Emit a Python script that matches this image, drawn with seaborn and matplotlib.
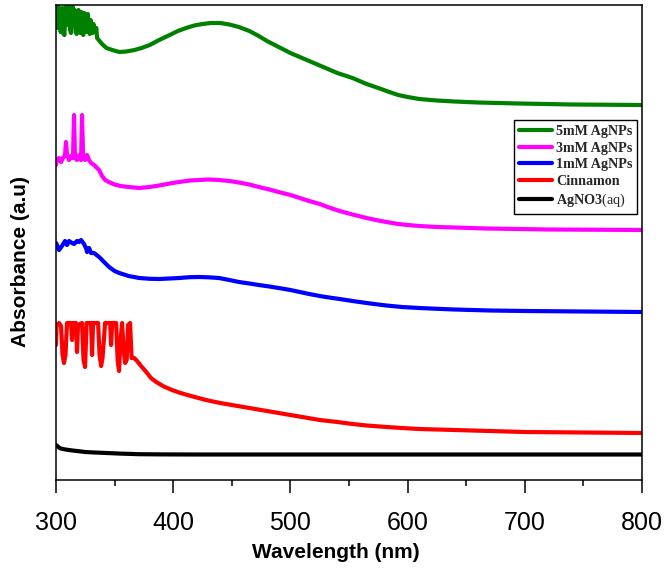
import matplotlib
matplotlib.use("Agg")
import matplotlib.pyplot as plt
import numpy as np
import pandas as pd
import seaborn as sns
from matplotlib.ticker import MultipleLocator

# UV-Vis spectra: wavelength (nm) and stacked absorbance (a.u.)
wl_5mM = [300.0, 300.8, 301.6, 302.4, 303.2, 304.0, 304.8, 305.6, 306.4, 307.2, 308.0, 308.8,
          309.6, 310.4, 311.2, 312.0, 312.8, 313.6, 314.4, 315.2, 316.0, 316.8, 317.6, 318.4,
          319.2, 320.0, 320.8, 321.6, 322.4, 323.2, 324.0, 324.8, 325.6, 326.4, 327.2, 328.0,
          328.8, 329.6, 330.4, 331.2, 332.0, 332.8, 333.6, 334.4, 335.0,
          339.3, 343.0, 348.0, 354.0, 360.0, 367.0, 373.0, 380.0, 388.0, 397.0, 404.0, 411.0,
          418.0, 425.0, 432.0, 440.0, 448.0, 456.0, 465.0, 473.0, 480.0, 490.0, 500.0, 510.0,
          520.0, 530.0, 540.0, 553.0, 565.0, 575.0, 582.0, 592.0, 600.0, 610.0, 625.0, 640.0,
          660.0, 695.0, 740.0, 800.0]
abs_5mM = [4.65, 4.74, 4.52, 4.73, 4.70, 4.48, 4.60, 4.72, 4.46, 4.45, 4.70, 4.74,
           4.55, 4.72, 4.74, 4.50, 4.47, 4.72, 4.73, 4.55, 4.70, 4.48, 4.46, 4.66,
           4.70, 4.50, 4.47, 4.68, 4.55, 4.45, 4.67, 4.66, 4.48, 4.50, 4.66, 4.52,
           4.46, 4.60, 4.55, 4.47, 4.56, 4.50, 4.48, 4.52, 4.42,
           4.36, 4.32, 4.30, 4.28, 4.285, 4.30, 4.32, 4.35, 4.40, 4.45, 4.49, 4.52,
           4.545, 4.56, 4.57, 4.57, 4.555, 4.53, 4.49, 4.44, 4.39, 4.33, 4.27, 4.22,
           4.17, 4.12, 4.07, 4.02, 3.96, 3.92, 3.89, 3.85, 3.83, 3.81, 3.795, 3.785,
           3.775, 3.765, 3.755, 3.75]

wl_3mM = [300.0, 300.9, 302.6, 304.3, 306.0, 307.7, 308.5, 309.4, 311.1, 312.8, 314.5, 315.4,
          316.2, 317.9, 319.7, 321.4, 322.2, 323.1, 324.8, 326.5, 328.2, 329.9, 332.5, 336.8,
          339.3, 342.0, 345.0, 350.0, 355.0, 362.0, 371.0, 380.0, 388.0, 397.0, 405.0, 414.0,
          422.0, 430.0, 439.0, 448.0, 456.0, 465.0, 473.0, 482.0, 490.0, 500.0, 508.0, 516.0,
          525.0, 533.0, 542.0, 553.0, 565.0, 575.0, 582.0, 592.0, 600.0, 610.0, 625.0, 640.0,
          667.0, 720.0, 800.0]
abs_3mM = [3.15, 3.20, 3.22, 3.18, 3.22, 3.25, 3.38, 3.25, 3.20, 3.24, 3.22, 3.65,
           3.22, 3.20, 3.25, 3.20, 3.65, 3.25, 3.20, 3.25, 3.20, 3.17, 3.15, 3.10,
           3.04, 3.00, 2.98, 2.955, 2.94, 2.93, 2.92, 2.93, 2.945, 2.965, 2.98, 2.995,
           3.00, 3.005, 3.00, 2.99, 2.975, 2.955, 2.93, 2.905, 2.88, 2.85, 2.82, 2.79,
           2.76, 2.725, 2.69, 2.655, 2.62, 2.595, 2.58, 2.56, 2.55, 2.54, 2.53, 2.525,
           2.515, 2.505, 2.50]

wl_1mM = [300.0, 300.9, 302.6, 305.1, 307.7, 309.4, 311.1, 313.7, 315.4, 317.9, 319.7, 321.4,
          323.9, 325.6, 326.5, 328.2, 329.9, 332.5, 336.8, 341.0, 345.3, 350.0, 354.0, 362.0,
          371.0, 380.0, 388.0, 397.0, 405.0, 414.0, 422.0, 430.0, 439.0, 448.0, 456.0, 465.0,
          473.0, 482.0, 490.0, 500.0, 508.0, 516.0, 525.0, 533.0, 542.0, 553.0, 565.0, 575.0,
          582.0, 595.0, 610.0, 625.0, 640.0, 670.0, 700.0, 750.0, 800.0]
abs_1mM = [2.37, 2.35, 2.30, 2.34, 2.39, 2.35, 2.39, 2.37, 2.36, 2.39, 2.38, 2.40,
           2.36, 2.32, 2.28, 2.32, 2.27, 2.27, 2.23, 2.18, 2.13, 2.09, 2.07, 2.04,
           2.02, 2.012, 2.01, 2.015, 2.02, 2.028, 2.03, 2.027, 2.02, 2.00, 1.98, 1.965,
           1.95, 1.935, 1.92, 1.90, 1.88, 1.86, 1.84, 1.825, 1.81, 1.79, 1.77, 1.755,
           1.745, 1.73, 1.72, 1.712, 1.705, 1.695, 1.69, 1.685, 1.68]

wl_cin = [300.0, 300.4, 302.6, 304.3, 305.6, 306.8, 308.1, 309.4, 312.8, 313.7, 314.5, 317.1,
          317.9, 318.8, 322.2, 323.5, 324.8, 326.1, 329.9, 330.8, 331.6, 335.9, 337.2, 338.5,
          339.7, 341.9, 346.2, 347.0, 347.9, 351.3, 352.6, 353.8, 355.1, 356.4, 357.7, 359.0,
          360.3, 361.5, 363.2, 364.5, 366.7, 369.2, 372.6, 377.0, 381.0, 385.5, 392.0, 399.0,
          405.0, 412.0, 420.0, 428.0, 440.0, 450.0, 460.0, 475.0, 490.0, 505.0, 525.0, 540.0,
          553.0, 565.0, 582.0, 595.0, 610.0, 625.0, 640.0, 670.0, 700.0, 750.0, 800.0]
abs_cin = [1.35, 1.54, 1.57, 1.54, 1.25, 1.17, 1.25, 1.57, 1.57, 1.40, 1.57, 1.57,
           1.28, 1.55, 1.57, 1.20, 1.13, 1.57, 1.57, 1.25, 1.57, 1.57, 1.25, 1.14,
           1.22, 1.57, 1.57, 1.35, 1.57, 1.57, 1.20, 1.09, 1.40, 1.57, 1.30, 1.17,
           1.20, 1.55, 1.57, 1.22, 1.22, 1.19, 1.14, 1.08, 1.02, 0.98, 0.935, 0.90,
           0.875, 0.85, 0.825, 0.80, 0.77, 0.75, 0.73, 0.70, 0.67, 0.64, 0.60, 0.58,
           0.56, 0.545, 0.53, 0.52, 0.51, 0.505, 0.50, 0.49, 0.48, 0.475, 0.47]

wl_agno3 = [300.0, 301.5, 303.0, 305.0, 308.0, 314.0, 320.0, 325.0, 333.0, 343.0, 355.0, 371.0,
            390.0, 420.0, 500.0, 650.0, 800.0]
abs_agno3 = [0.35, 0.335, 0.32, 0.312, 0.305, 0.295, 0.287, 0.28, 0.275, 0.27, 0.264, 0.258,
             0.256, 0.255, 0.255, 0.255, 0.255]

series_names = ["5mM AgNPs", "3mM AgNPs", "1mM AgNPs", "Cinnamon", "AgNO3(aq)"]
series_colors = ["#008000", "#FF00FF", "#0000FF", "#FF0000", "#000000"]

frames = []
for name, wl, ab in zip(series_names,
                        [wl_5mM, wl_3mM, wl_1mM, wl_cin, wl_agno3],
                        [abs_5mM, abs_3mM, abs_1mM, abs_cin, abs_agno3]):
    frames.append(pd.DataFrame({"Wavelength": wl, "Absorbance": ab, "Sample": name}))
spectra = pd.concat(frames, ignore_index=True)

sns.set_theme(style="ticks")
plt.rcParams["font.family"] = ["Liberation Sans", "DejaVu Sans"]
plt.rcParams["mathtext.fontset"] = "custom"
plt.rcParams["mathtext.bf"] = "Liberation Serif:bold"
plt.rcParams["mathtext.rm"] = "Liberation Serif"

fig = plt.figure(figsize=(6.65, 5.68), dpi=100)
ax = fig.add_axes([56 / 665, 88 / 568, 586 / 665, 475 / 568])

sns.lineplot(data=spectra, x="Wavelength", y="Absorbance", hue="Sample",
             hue_order=series_names, palette=series_colors, estimator=None,
             sort=False, linewidth=3.0, ax=ax)
for ln in ax.get_lines():
    ln.set_solid_joinstyle("round")
    ln.set_solid_capstyle("round")

ax.set_xlim(300, 800)
ax.set_ylim(0, 4.75)
ax.xaxis.set_major_locator(MultipleLocator(100))
ax.xaxis.set_minor_locator(MultipleLocator(50))
ax.set_yticks([])
ax.tick_params(axis="x", which="major", direction="out", length=9.5, width=1.1,
               labelsize=18, pad=13, color="black", labelcolor="black")
ax.tick_params(axis="x", which="minor", direction="out", length=4.5, width=1.1,
               color="black")
for sp in ax.spines.values():
    sp.set_visible(True)
    sp.set_color("black")
    sp.set_linewidth(1.1)

ax.set_xlabel("Wavelength (nm)", fontsize=15, fontweight="bold", color="black")
ax.xaxis.set_label_coords(0.478, -0.152)
ax.xaxis.label.set_va("center")
ax.set_ylabel("Absorbance (a.u)", fontsize=15, fontweight="bold", color="black")
ax.yaxis.label.set_va("center")
ax.yaxis.set_label_coords(-0.061, 0.459)

handles, labels = ax.get_legend_handles_labels()
leg = ax.legend(handles, labels, loc="upper right", bbox_to_anchor=(0.992, 0.758),
                borderaxespad=0, fancybox=False, framealpha=1, edgecolor="black",
                prop={"family": "Liberation Serif", "weight": "bold", "size": 10.2},
                handlelength=2.3, handletextpad=0.3, labelspacing=0.26, borderpad=0.35)
leg.get_frame().set_linewidth(1.0)
for line in leg.get_lines():
    line.set_linewidth(3.0)
for txt in leg.get_texts():
    if txt.get_text() == "AgNO3(aq)":
        txt.set_text(r"$\mathbf{AgNO3}$(aq)")
        txt.set_fontweight("normal")

fig.savefig("out.png", dpi=100)
